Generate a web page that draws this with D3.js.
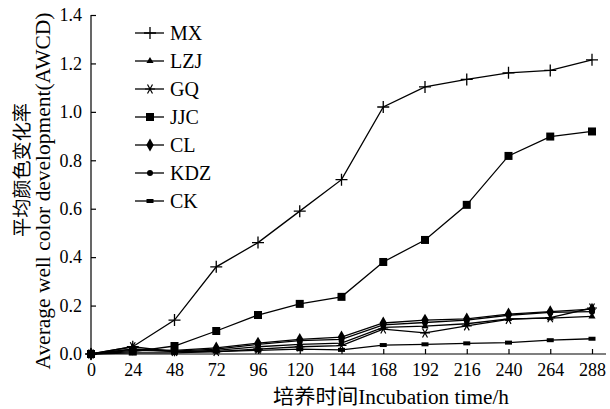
<!DOCTYPE html>
<html>
  <head>
    <meta charset="utf-8">
    <title>AWCD</title>
    <script src="https://d3js.org/d3.v7.min.js"></script>
    <style>
      body { margin: 0; background: white; }
      text { font-family: "Liberation Serif", "Noto Sans CJK SC", serif; fill: black; }
    </style>
  </head>
  <body>
    <svg id="chart" width="610" height="409"></svg>
    <script>
      // data
      hours = [0, 24, 48, 72, 96, 120, 144, 168, 192, 216, 240, 264, 288];
      yTicks = [0, 0.2, 0.4, 0.6, 0.8, 1.0, 1.2, 1.4];
      names = ["MX", "LZJ", "GQ", "JJC", "CL", "KDZ", "CK"];
      mx = [0, 0.03, 0.14, 0.36, 0.46, 0.59, 0.72, 1.02, 1.103, 1.134, 1.161, 1.171, 1.215];
      lzj = [0, 0.02, 0.01, 0.015, 0.03, 0.04, 0.045, 0.11, 0.115, 0.125, 0.145, 0.148, 0.155];
      gq = [0, 0.03, 0.01, 0.01, 0.02, 0.03, 0.035, 0.103, 0.087, 0.116, 0.143, 0.15, 0.19];
      jjc = [0, 0.01, 0.033, 0.095, 0.161, 0.207, 0.236, 0.38, 0.471, 0.616, 0.818, 0.898, 0.919];
      cl = [0, 0.02, 0.015, 0.025, 0.045, 0.06, 0.07, 0.128, 0.14, 0.145, 0.165, 0.175, 0.185];
      kdz = [0, 0.015, 0.012, 0.02, 0.04, 0.055, 0.06, 0.12, 0.13, 0.14, 0.16, 0.172, 0.175];
      ck = [0, 0.005, 0.005, 0.01, 0.015, 0.02, 0.017, 0.037, 0.04, 0.044, 0.047, 0.057, 0.063];
      series = [mx, lzj, gq, jjc, cl, kdz, ck];

      svg = d3.select("#chart");
      x = d3.scaleLinear().domain([0, 288]).range([91, 592]);
      y = d3.scaleLinear().domain([0, 1.4]).range([354, 15]);

      // axes
      xAxis = svg.append("g")
        .attr("transform", "translate(0,354)")
        .call(d3.axisBottom(x).tickValues(hours).tickSize(-5).tickPadding(8));
      yAxis = svg.append("g")
        .attr("transform", "translate(91,0)")
        .call(d3.axisLeft(y).tickValues(yTicks).tickSize(-5).tickPadding(9)
          .tickFormat(d3.format(".1f")));
      svg.selectAll(".domain").remove();
      svg.append("line").attr("x1", 91).attr("x2", 606).attr("y1", 354).attr("y2", 354)
        .attr("stroke", "black").attr("stroke-width", 1.2);
      svg.append("line").attr("x1", 91).attr("x2", 91).attr("y1", 15).attr("y2", 354)
        .attr("stroke", "black").attr("stroke-width", 1.2);
      svg.selectAll(".tick line").attr("stroke-width", 1.2);
      svg.selectAll(".tick text").style("font-size", "18px");
      xAxis.selectAll(".tick text").attr("dy", "0.75em");

      // axis titles
      svg.append("text")
        .attr("x", 391).attr("y", 404)
        .attr("text-anchor", "middle")
        .attr("textLength", 236)
        .attr("lengthAdjust", "spacingAndGlyphs")
        .style("font-size", "20px")
        .text("培养时间Incubation time/h");
      svg.append("text")
        .attr("transform", "translate(22,170) rotate(-90)")
        .attr("dy", "0.35em")
        .attr("text-anchor", "middle")
        .attr("textLength", 134)
        .attr("lengthAdjust", "spacingAndGlyphs")
        .style("font-size", "19px")
        .text("平均颜色变化率");
      svg.append("text")
        .attr("transform", "translate(43,191) rotate(-90)")
        .attr("dy", "0.35em")
        .attr("text-anchor", "middle")
        .attr("textLength", 357)
        .attr("lengthAdjust", "spacingAndGlyphs")
        .style("font-size", "21px")
        .text("Average well color development(AWCD)");

      // marker drawing
      function marker(g, i) {
        if (i == 0) {
          g.append("path").attr("d", "M-6,0H6M0,-6V6")
            .attr("stroke", "black").attr("stroke-width", 1.3).attr("fill", "none");
        } else if (i == 1) {
          g.append("path").attr("d", d3.symbol(d3.symbolTriangle, 22)())
            .attr("fill", "black");
        } else if (i == 2) {
          g.append("path").attr("d", "M-5,0H5M-2.5,-4.5L2.5,4.5M-2.5,4.5L2.5,-4.5")
            .attr("stroke", "black").attr("stroke-width", 1.2).attr("fill", "none");
        } else if (i == 3) {
          g.append("rect").attr("x", -4).attr("y", -4).attr("width", 8).attr("height", 8)
            .attr("fill", "black");
        } else if (i == 4) {
          g.append("path").attr("d", d3.symbol(d3.symbolDiamond, 48)())
            .attr("fill", "black");
        } else if (i == 5) {
          g.append("circle").attr("r", 3).attr("fill", "black");
        } else {
          g.append("rect").attr("x", -3.5).attr("y", -2).attr("width", 7).attr("height", 4)
            .attr("fill", "black");
        }
      }

      line = d3.line()
        .x(function(d, i) { return x(hours[i]); })
        .y(function(d) { return y(d); });

      // draw series, CK first so others sit on top
      order = [6, 5, 4, 3, 2, 1, 0];
      order.forEach(function(s) {
        svg.append("path")
          .datum(series[s])
          .attr("d", line)
          .attr("fill", "none")
          .attr("stroke", "black")
          .attr("stroke-width", 1.3);
        series[s].forEach(function(v, i) {
          let g = svg.append("g").attr("transform", "translate(" + x(hours[i]) + "," + y(v) + ")");
          marker(g, s);
        });
      });

      // legend
      names.forEach(function(n, i) {
        let ly = 33 + i * 28;
        svg.append("line").attr("x1", 135).attr("x2", 164).attr("y1", ly).attr("y2", ly)
          .attr("stroke", "black").attr("stroke-width", 1.3);
        marker(svg.append("g").attr("transform", "translate(150," + ly + ")"), i);
        svg.append("text").attr("x", 170).attr("y", ly).attr("dy", "0.35em")
          .style("font-size", "20px").text(n);
      });
    </script>
  </body>
</html>
